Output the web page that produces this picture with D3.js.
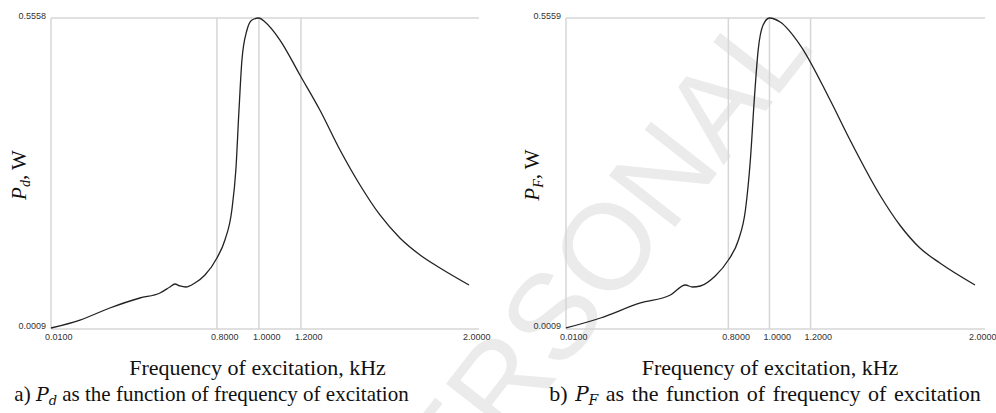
<!DOCTYPE html>
<html><head><meta charset="utf-8">
<script src="https://cdn.jsdelivr.net/npm/d3@7/dist/d3.min.js"></script>
<style>body{margin:0;background:#fff}svg{display:block}</style>
</head><body>
<svg id="c" width="996" height="413"></svg>
<script>
// ---- data ----
const freqA = [0.01,0.148,0.29,0.433,0.529,0.576,0.60,0.624,0.652,0.695,0.743,0.80,0.838,0.871,0.89,0.905,0.919,0.943,0.967,1.0,1.029,1.10,1.195,1.29,1.386,1.481,1.576,1.671,1.767,1.862,2.0];
const powerA = [0.0009,0.0152,0.0367,0.0546,0.0636,0.0743,0.0797,0.0761,0.0743,0.0815,0.0958,0.1262,0.1584,0.2121,0.2837,0.3911,0.4806,0.5343,0.5522,0.5558,0.5486,0.5164,0.4538,0.3911,0.3195,0.2569,0.2032,0.162,0.1316,0.1083,0.0779];
const freqB = [0.01,0.178,0.372,0.518,0.591,0.625,0.664,0.736,0.80,0.849,0.883,0.907,0.926,0.945,0.969,1.0,1.052,1.149,1.295,1.392,1.537,1.634,1.732,1.829,2.0];
const powerB = [0.0009,0.0188,0.0457,0.0600,0.0779,0.0743,0.0761,0.0940,0.1226,0.1584,0.2121,0.3016,0.4090,0.4985,0.5433,0.5559,0.5486,0.5075,0.4090,0.3374,0.2390,0.1853,0.1441,0.1172,0.0779];
const xTickVals = [0.01,0.8,1.0,1.2,2.0];
const xTickLabels = ["0.0100","0.8000","1.0000","1.2000","2.0000"];
const gridVals = [0.8,1.0,1.2];
const yTicksA = [0.0009,0.5558];
const yTicksB = [0.0009,0.5559];
const xTitle = "Frequency of excitation, kHz";
const captionRest = " as the function of frequency of excitation";
const panels = [
  {freq:freqA, power:powerA, yTicks:yTicksA, sub:"d", cap:"a)", left:51, right:469, cx:257.5, capX:211.5, capFs:21, ws:0, labX:19},
  {freq:freqB, power:powerB, yTicks:yTicksB, sub:"F", cap:"b)", left:566, right:975, cx:770, capX:765, capFs:22, ws:2, labX:532}
];
const plotTop = 18, plotBottom = 328;
const svg = d3.select("#c");

// watermark
svg.append("text").attr("transform","translate(815,48) rotate(-52)")
  .attr("text-anchor","end").attr("font-family","Liberation Sans, Arial, sans-serif")
  .attr("font-size",122).attr("fill","#ebebeb").text("PERSONAL");

panels.forEach(p => {
  const x = d3.scaleLinear().domain([0.01,2.0]).range([p.left,p.right]);
  const y = d3.scaleLinear().domain([p.yTicks[0],p.yTicks[1]]).range([plotBottom,plotTop]);
  const g = svg.append("g");
  const gridC = "#d6d6d6";
  // frame lines
  g.append("line").attr("x1",x(0.01)).attr("x2",x(2.0)+10).attr("y1",y(p.yTicks[1])).attr("y2",y(p.yTicks[1])).attr("stroke",gridC).attr("stroke-width",1.5);
  g.append("line").attr("x1",x(0.01)).attr("x2",x(2.0)+10).attr("y1",y(p.yTicks[0])+1).attr("y2",y(p.yTicks[0])+1).attr("stroke",gridC).attr("stroke-width",1.5);
  g.append("line").attr("x1",x(0.01)).attr("x2",x(0.01)).attr("y1",plotTop).attr("y2",plotBottom+1).attr("stroke",gridC).attr("stroke-width",1.5);
  g.selectAll(".grid").data(gridVals).enter().append("line")
    .attr("x1",d=>x(d)).attr("x2",d=>x(d)).attr("y1",plotTop).attr("y2",plotBottom+1)
    .attr("stroke",gridC).attr("stroke-width",1.5);
  // x tick labels
  g.selectAll(".xl").data(xTickVals).enter().append("text")
    .attr("x",(d)=>x(d)-6).attr("y",plotBottom+12)
    .attr("font-family","Liberation Sans, Arial, sans-serif").attr("font-size",9).attr("fill","#333")
    .text((d,i)=>xTickLabels[i]);
  // y tick labels
  g.selectAll(".yl").data(p.yTicks).enter().append("text")
    .attr("x",x(0.01)-5).attr("y",d=>y(d)+1)
    .attr("text-anchor","end")
    .attr("font-family","Liberation Sans, Arial, sans-serif").attr("font-size",9).attr("fill","#333")
    .text(d=>d.toFixed(4));
  // curve
  const pts = p.freq.map((f,i)=>[f,p.power[i]]);
  g.append("path").datum(pts)
    .attr("d", d3.line().x(d=>x(d[0])).y(d=>y(d[1])).curve(d3.curveMonotoneX))
    .attr("fill","none").attr("stroke","#222").attr("stroke-width",1.3);
  // y label
  const yl = g.append("text").attr("transform",`translate(${p.labX+7},175) rotate(-90)`)
    .attr("text-anchor","middle").attr("font-family","Liberation Serif, Times New Roman, serif").attr("font-size",21).attr("fill","#111");
  yl.append("tspan").attr("font-style","italic").text("P");
  yl.append("tspan").attr("font-style","italic").attr("font-size",14).attr("dy",4).text(p.sub);
  yl.append("tspan").attr("dy",-4).text(", W");
  // x title
  g.append("text").attr("x",p.cx).attr("y",375).attr("text-anchor","middle")
    .attr("font-family","Liberation Serif, Times New Roman, serif").attr("font-size",22).attr("fill","#111").text(xTitle);
  // caption
  const c = g.append("text").attr("x",p.capX).attr("y",401).attr("text-anchor","middle")
    .attr("word-spacing",p.ws)
    .attr("font-family","Liberation Serif, Times New Roman, serif").attr("font-size",p.capFs).attr("fill","#111");
  c.append("tspan").text(p.cap + " ");
  c.append("tspan").attr("font-family","DejaVu Serif, serif").attr("font-style","italic").attr("font-size",p.capFs-2).text("P");
  c.append("tspan").attr("font-family","DejaVu Serif, serif").attr("font-style","italic").attr("font-size",p.capFs-8).attr("dy",4).text(p.sub);
  c.append("tspan").attr("dy",-4).text(captionRest);
});
</script>
</body></html>
